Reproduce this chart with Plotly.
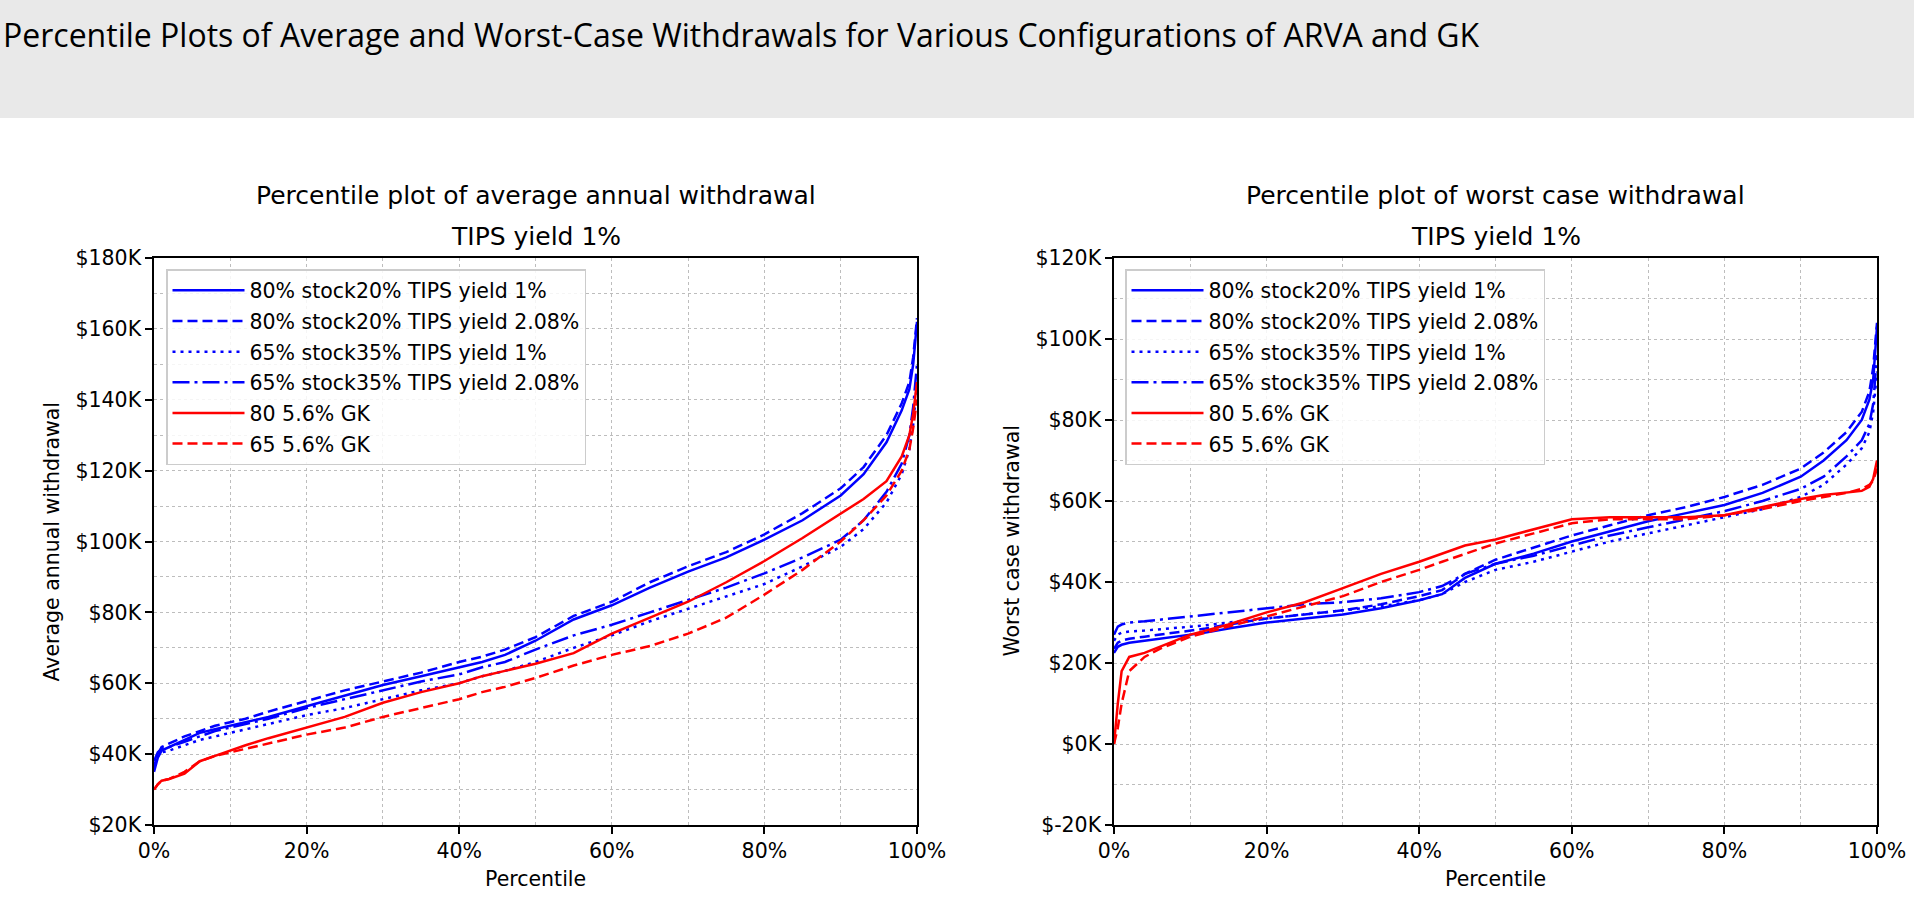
import plotly.graph_objects as go

# ---------------- data ----------------
percentile = [0, 0.5, 1, 2, 4, 6, 8, 10, 12, 15, 20, 25, 30, 35, 40, 43, 46, 50,
              55, 60, 65, 70, 75, 80, 85, 90, 93, 96, 98, 99, 99.5, 100]

series_names = ["80% stock20% TIPS yield 1%", "80% stock20% TIPS yield 2.08%",
                "65% stock35% TIPS yield 1%", "65% stock35% TIPS yield 2.08%",
                "80 5.6% GK", "65 5.6% GK"]

# average annual withdrawal ($K)
avg_80_20_1 = [35, 39, 41, 42, 44, 46, 47, 48, 49, 50.5, 53.5, 56.5, 59.5, 62, 64.5, 66, 68, 72,
               78, 82, 87, 91.5, 95.5, 100.5, 106, 113, 119, 128, 137, 143, 150, 162]
avg_80_20_208 = [36, 40, 42, 43, 45, 46.5, 48, 49, 50, 52, 55, 58, 60.5, 63, 66, 67.5, 69.5, 73,
                 79, 83, 88.5, 93, 97, 102, 108, 115, 121, 130, 139, 145, 152, 163]
avg_65_35_1 = [37, 39.5, 40.5, 41, 42.5, 44, 45, 46, 47, 48.5, 51, 53, 55.5, 58, 60, 62, 63.5, 66,
               70, 73.5, 77.5, 81, 84.5, 88, 93, 98.5, 103.5, 111, 119, 126, 133, 145]
avg_65_35_208 = [38, 40.5, 41.5, 42, 43.5, 45, 46.5, 47.5, 48.5, 50, 53, 55.5, 58, 60.5, 62.5, 64.5, 66, 69.5,
                 73.5, 76.5, 80, 83.5, 87, 91, 95.5, 100.5, 106, 114, 122, 130, 138, 150]
avg_gk_80 = [30, 31.5, 32.5, 33, 34.5, 38, 39.5, 41, 42.5, 44.5, 47.5, 50.5, 54.5, 57.5, 60, 62, 63.5, 65.5,
             68.5, 74, 78.5, 83, 88.5, 94.5, 101, 108, 112, 117, 124, 130, 136, 145]
avg_gk_65 = [30, 31.5, 32.5, 33, 35, 38, 39.5, 40.5, 41.5, 43, 45.5, 47.5, 50.5, 53, 55.5, 57.5, 59, 61.5,
             65, 68, 70.5, 74, 78.5, 85, 92, 100, 106, 113, 120, 126, 132, 140]

# worst case withdrawal ($K)
wc_80_20_1 = [22.5, 24, 24.5, 25, 25.5, 26, 26.5, 27, 27.5, 28.5, 30, 31, 32, 33.5, 35.5, 37, 41, 44.5,
              47, 50, 52.5, 55, 57, 59, 62, 66, 70, 75, 80, 85, 90, 103]
wc_80_20_208 = [23.5, 25, 25.5, 26, 26.5, 27, 27.5, 28, 28.5, 29.5, 31, 32, 33, 34.5, 36.5, 38, 42, 45.5,
                48.5, 51.5, 54, 56.5, 58.5, 61, 64, 68, 72, 77, 82, 87, 93, 104]
wc_65_35_1 = [25.5, 27, 27.5, 27.8, 28, 28.3, 28.6, 29, 29.3, 30, 31, 32, 33, 34, 35.5, 37, 40, 43,
              45, 47.5, 50, 52, 54, 56, 58, 61, 64, 69, 73, 77, 82, 92]
wc_65_35_208 = [27, 29, 29.5, 30, 30.3, 30.7, 31, 31.5, 31.8, 32.5, 33.5, 34.5, 35, 36, 37.5, 39, 42, 44.5,
                46.5, 49, 51.5, 53.5, 55.5, 57.5, 60, 63, 66, 71, 75, 79, 84, 96]
wc_gk_80 = [0, 10, 18, 21.5, 22.5, 24, 25.5, 27, 28, 29.5, 32.5, 35, 38.5, 42, 45, 47, 49, 50.5,
            53, 55.5, 56, 56, 56, 56.5, 58.5, 60.5, 61.5, 62, 62.5, 63.5, 65.5, 70]
wc_gk_65 = [0, 4, 10, 18, 21.5, 23.5, 25, 26.5, 27.5, 29, 31.5, 34, 36.5, 40, 43, 45, 47, 49.5,
            52, 54.5, 55.5, 55.5, 55.5, 56.5, 58, 60, 61, 62, 63, 64, 65, 68]

x_tickvals = [0, 20, 40, 60, 80, 100]
x_ticktext = ["0%", "20%", "40%", "60%", "80%", "100%"]
avg_tickvals = [20, 40, 60, 80, 100, 120, 140, 160, 180]
avg_ticktext = ["$20K", "$40K", "$60K", "$80K", "$100K", "$120K", "$140K", "$160K", "$180K"]
wc_tickvals = [-20, 0, 20, 40, 60, 80, 100, 120]
wc_ticktext = ["$-20K", "$0K", "$20K", "$40K", "$60K", "$80K", "$100K", "$120K"]

main_title = "Percentile Plots of Average and Worst-Case Withdrawals for Various Configurations of ARVA and GK"
left_title = "Percentile plot of average annual withdrawal"
right_title = "Percentile plot of worst case withdrawal"
sub_title = "TIPS yield 1%"

# ---------------- styling ----------------
W, H = 1914, 902
BLUE, RED = "#0000ff", "#ff0000"
LW = 2.5
dashes = ["solid", "10px,5px", "3px,5px", "17px,5px,3px,5px", "solid", "10px,5px"]
colors = [BLUE, BLUE, BLUE, BLUE, RED, RED]
FONT = "DejaVu Sans"
FS = 20.5

def px_x(p):
    return p / W

def px_y(p):
    return 1 - p / H

fig = go.Figure()

avg_sets = [avg_80_20_1, avg_80_20_208, avg_65_35_1, avg_65_35_208, avg_gk_80, avg_gk_65]
wc_sets = [wc_80_20_1, wc_80_20_208, wc_65_35_1, wc_65_35_208, wc_gk_80, wc_gk_65]

for i, (name, ys) in enumerate(zip(series_names, avg_sets)):
    fig.add_trace(go.Scatter(x=percentile, y=ys, mode="lines", name=name,
                             line=dict(color=colors[i], width=LW, dash=dashes[i]),
                             xaxis="x", yaxis="y", legend="legend",
                             legendgroup="a%d" % i))
for i, (name, ys) in enumerate(zip(series_names, wc_sets)):
    fig.add_trace(go.Scatter(x=percentile, y=ys, mode="lines", name=name,
                             line=dict(color=colors[i], width=LW, dash=dashes[i]),
                             xaxis="x2", yaxis="y2", legend="legend2",
                             legendgroup="w%d" % i))

grid = dict(gridcolor="#bdbdbd", griddash="dot", gridwidth=1)
common_axis = dict(showline=True, linecolor="black", linewidth=1.6, mirror=True,
                   ticks="outside", ticklen=7, tickwidth=1.6, tickcolor="black",
                   showgrid=True, zeroline=False, automargin=False,
                   tickfont=dict(family=FONT, size=FS, color="black"), **grid)

xdom1 = [px_x(154), px_x(917)]
xdom2 = [px_x(1114), px_x(1877)]
ydom = [px_y(825), px_y(258)]

legend_common = dict(xanchor="left", yanchor="top",
                     bgcolor="rgba(255,255,255,0.85)", bordercolor="#cccccc", borderwidth=1.5,
                     font=dict(family=FONT, size=FS, color="black"), tracegroupgap=1,
                     itemwidth=72)

fig.update_layout(
    template="none",
    width=W, height=H,
    margin=dict(l=0, r=0, t=0, b=0, pad=0, autoexpand=False),
    paper_bgcolor="white", plot_bgcolor="white",
    xaxis=dict(domain=xdom1, range=[0, 100], tickvals=x_tickvals, ticktext=x_ticktext,
               minor=dict(dtick=10, tick0=0, showgrid=True, ticks="", **grid),
               anchor="y", **common_axis),
    yaxis=dict(domain=ydom, range=[20, 180], tickvals=avg_tickvals, ticktext=avg_ticktext,
               minor=dict(dtick=10, tick0=0, showgrid=True, ticks="", **grid),
               anchor="x", **common_axis),
    xaxis2=dict(domain=xdom2, range=[0, 100], tickvals=x_tickvals, ticktext=x_ticktext,
                minor=dict(dtick=10, tick0=0, showgrid=True, ticks="", **grid),
                anchor="y2", **common_axis),
    yaxis2=dict(domain=ydom, range=[-20, 120], tickvals=wc_tickvals, ticktext=wc_ticktext,
                minor=dict(dtick=10, tick0=0, showgrid=True, ticks="", **grid),
                anchor="x2", **common_axis),
    legend=dict(x=px_x(166), y=px_y(269), **legend_common),
    legend2=dict(x=px_x(1125), y=px_y(269), **legend_common),
    showlegend=True,
    shapes=[dict(type="rect", xref="paper", yref="paper", x0=0, x1=1,
                 y0=px_y(118), y1=1, fillcolor="#e9e9e9", line=dict(width=0), layer="below")],
)

ann = []
ann.append(dict(text=main_title, x=px_x(1), y=px_y(34), xref="paper", yref="paper",
                xanchor="left", yanchor="middle", showarrow=False,
                font=dict(family="Open Sans", size=32, color="black")))
for cx, t in [((154 + 917) / 2, left_title), ((1114 + 1877) / 2, right_title)]:
    ann.append(dict(text=t, x=px_x(cx), y=px_y(195), xref="paper", yref="paper",
                    xanchor="center", yanchor="middle", showarrow=False,
                    font=dict(family=FONT, size=25, color="black")))
    ann.append(dict(text=sub_title, x=px_x(cx), y=px_y(236), xref="paper", yref="paper",
                    xanchor="center", yanchor="middle", showarrow=False,
                    font=dict(family=FONT, size=25, color="black")))
    ann.append(dict(text="Percentile", x=px_x(cx), y=px_y(879), xref="paper", yref="paper",
                    xanchor="center", yanchor="middle", showarrow=False,
                    font=dict(family=FONT, size=FS, color="black")))
ann.append(dict(text="Average annual withdrawal", x=px_x(51), y=px_y((258 + 825) / 2),
                xref="paper", yref="paper", textangle=-90, xanchor="center", yanchor="middle",
                showarrow=False, font=dict(family=FONT, size=FS, color="black")))
ann.append(dict(text="Worst case withdrawal", x=px_x(1011), y=px_y((258 + 825) / 2),
                xref="paper", yref="paper", textangle=-90, xanchor="center", yanchor="middle",
                showarrow=False, font=dict(family=FONT, size=FS, color="black")))
fig.update_layout(annotations=ann)

fig.write_html("out.html", config={"displayModeBar": False},
               post_script="document.body.style.margin='0';document.body.style.overflow='hidden';")
